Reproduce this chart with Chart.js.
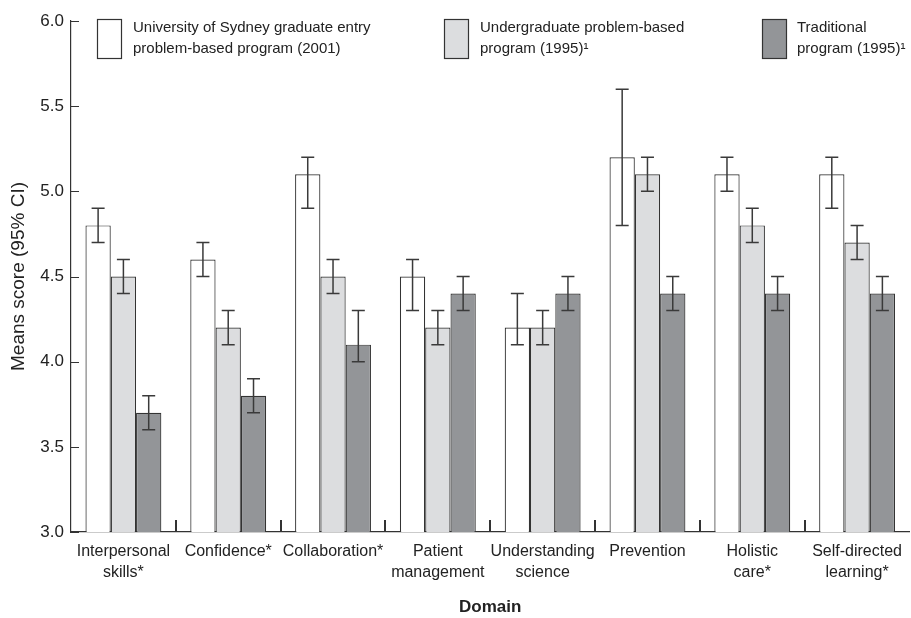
<!DOCTYPE html>
<html>
<head>
<meta charset="utf-8">
<script src="https://cdn.jsdelivr.net/npm/chart.js@4/dist/chart.umd.min.js"></script>
<style>
html,body{margin:0;padding:0;background:#fff;}
#wrap{position:relative;width:911px;height:618px;}
</style>
</head>
<body>
<div id="wrap"><canvas id="c" width="911" height="618"></canvas></div>
<script>
const categories = [["Interpersonal","skills*"],["Confidence*"],["Collaboration*"],["Patient","management"],["Understanding","science"],["Prevention"],["Holistic","care*"],["Self-directed","learning*"]];
const seriesNames = [
  ["University of Sydney graduate entry","problem-based program (2001)"],
  ["Undergraduate problem-based","program (1995)\u00b9"],
  ["Traditional","program (1995)\u00b9"]
];
const sydneyMean = [4.8, 4.6, 5.1, 4.5, 4.2, 5.2, 5.1, 5.1];
const sydneyLow  = [4.7, 4.5, 4.9, 4.3, 4.1, 4.8, 5.0, 4.9];
const sydneyHigh = [4.9, 4.7, 5.2, 4.6, 4.4, 5.6, 5.2, 5.2];
const ugPblMean = [4.5, 4.2, 4.5, 4.2, 4.2, 5.1, 4.8, 4.7];
const ugPblLow  = [4.4, 4.1, 4.4, 4.1, 4.1, 5.0, 4.7, 4.6];
const ugPblHigh = [4.6, 4.3, 4.6, 4.3, 4.3, 5.2, 4.9, 4.8];
const tradMean = [3.7, 3.8, 4.1, 4.4, 4.4, 4.4, 4.4, 4.4];
const tradLow  = [3.6, 3.7, 4.0, 4.3, 4.3, 4.3, 4.3, 4.3];
const tradHigh = [3.8, 3.9, 4.3, 4.5, 4.5, 4.5, 4.5, 4.5];
const yTicks = [3.0, 3.5, 4.0, 4.5, 5.0, 5.5, 6.0];
const yTitle = "Means score (95% CI)";
const xTitle = "Domain";

const colors = ["#ffffff", "#dcdddf", "#939598"];
const FONT = "'Liberation Sans', Arial, Helvetica, sans-serif";

const errorBars = {
  id: 'errorBars',
  afterDatasetsDraw(chart) {
    const ctx = chart.ctx;
    const y = chart.scales.y;
    const lows = [sydneyLow, ugPblLow, tradLow];
    const highs = [sydneyHigh, ugPblHigh, tradHigh];
    ctx.save();
    ctx.strokeStyle = '#3a3a3a';
    ctx.lineWidth = 1.5;
    chart.data.datasets.forEach((ds, di) => {
      const meta = chart.getDatasetMeta(di);
      meta.data.forEach((bar, i) => {
        const x = bar.x;
        const yl = y.getPixelForValue(lows[di][i]);
        const yh = y.getPixelForValue(highs[di][i]);
        ctx.beginPath();
        ctx.moveTo(x, yl); ctx.lineTo(x, yh);
        ctx.moveTo(x - 6.5, yl); ctx.lineTo(x + 6.5, yl);
        ctx.moveTo(x - 6.5, yh); ctx.lineTo(x + 6.5, yh);
        ctx.stroke();
      });
    });
    ctx.restore();
  }
};

const axisTicks = {
  id: 'axisTicks',
  afterDraw(chart) {
    const ctx = chart.ctx;
    const x = chart.scales.x, y = chart.scales.y;
    const area = chart.chartArea;
    ctx.save();
    ctx.strokeStyle = '#333';
    ctx.lineWidth = 1.2;
    ctx.beginPath();
    yTicks.forEach(v => {
      const py = Math.round(y.getPixelForValue(v)) + 0.5;
      ctx.moveTo(area.left, py); ctx.lineTo(area.left + 8, py);
    });
    ctx.stroke();
    ctx.lineWidth = 2;
    ctx.beginPath();
    for (let i = 1; i < categories.length; i++) {
      const px = Math.round((x.getPixelForTick(i - 1) + x.getPixelForTick(i)) / 2);
      ctx.moveTo(px, area.bottom); ctx.lineTo(px, area.bottom - 12);
    }
    ctx.stroke();
    ctx.restore();
  }
};

const boxLegend = {
  id: 'boxLegend',
  afterDraw(chart) {
    const ctx = chart.ctx;
    const pos = [[97, 133], [444, 480], [762, 797]];
    ctx.save();
    ctx.font = "15px " + FONT;
    ctx.textBaseline = 'middle';
    seriesNames.forEach((lines, i) => {
      ctx.fillStyle = colors[i];
      ctx.fillRect(pos[i][0], 19, 24, 39);
      ctx.strokeStyle = '#333';
      ctx.lineWidth = 1.2;
      ctx.strokeRect(pos[i][0] + 0.5, 19.5, 24, 39);
      ctx.fillStyle = '#222';
      lines.forEach((t, li) => ctx.fillText(t, pos[i][1], 27.5 + li * 21));
    });
    ctx.restore();
  }
};

const mk = (label, data, c) => ({
  label, data, backgroundColor: c, borderColor: '#333', borderWidth: 1.2,
  borderSkipped: 'bottom', categoryPercentage: 0.724, barPercentage: 1.0
});

new Chart(document.getElementById('c'), {
  type: 'bar',
  data: {
    labels: categories,
    datasets: [
      mk(seriesNames[0].join(' '), sydneyMean, colors[0]),
      mk(seriesNames[1].join(' '), ugPblMean, colors[1]),
      mk(seriesNames[2].join(' '), tradMean, colors[2])
    ]
  },
  options: {
    responsive: false,
    animation: false,
    layout: { padding: { top: 21, right: 0, left: 0, bottom: 0 } },
    plugins: { legend: { display: false }, tooltip: { enabled: false } },
    scales: {
      x: {
        grid: { display: false, drawTicks: false },
        border: { display: true, color: '#333', width: 1.2 },
        ticks: { color: '#222', font: { family: FONT, size: 16, lineHeight: 1.3 }, padding: 9, maxRotation: 0, autoSkip: false },
        title: { display: true, text: xTitle, color: '#222', font: { family: FONT, size: 17, weight: 'bold' }, padding: { top: 12, bottom: 0 } },
        afterFit(s) { s.height = 86; }
      },
      y: {
        min: 3, max: 6,
        afterBuildTicks(s) { s.ticks = yTicks.map(v => ({ value: v })); },
        grid: { display: false, drawTicks: false },
        border: { display: true, color: '#333', width: 1.2 },
        ticks: { color: '#222', font: { family: FONT, size: 17 }, padding: 7, callback: v => Number(v).toFixed(1) },
        title: { display: true, text: yTitle, color: '#222', font: { family: FONT, size: 19 }, padding: { top: 7, bottom: 0 } },
        afterFit(s) { s.width = 71; }
      }
    }
  },
  plugins: [errorBars, axisTicks, boxLegend]
});
</script>
</body>
</html>
